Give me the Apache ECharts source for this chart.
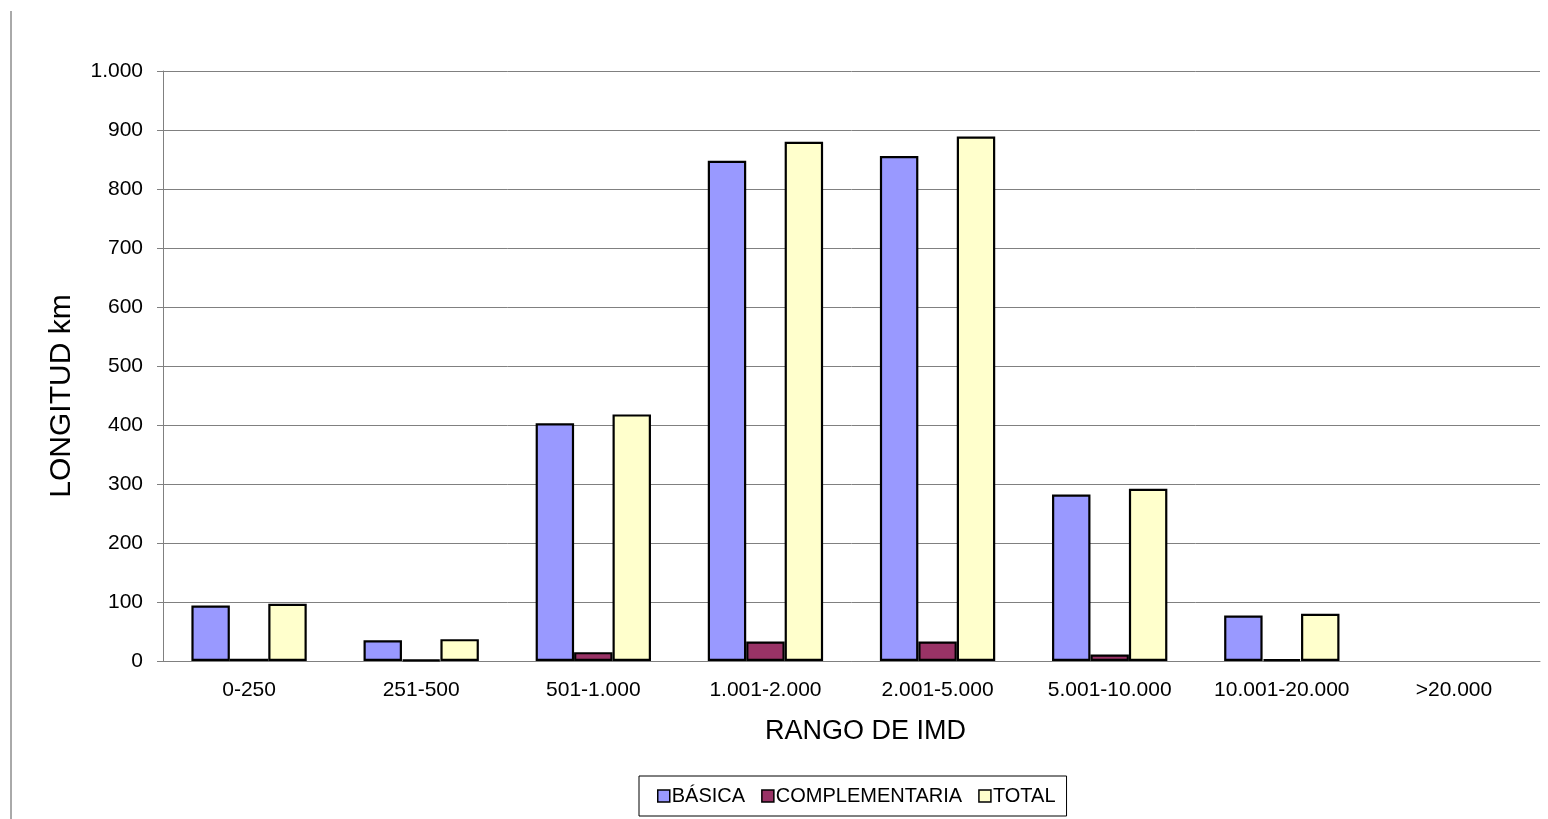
<!DOCTYPE html>
<html>
<head>
<meta charset="utf-8">
<title>Longitud por rango de IMD</title>
<script src="https://cdn.jsdelivr.net/npm/echarts@6/dist/echarts.min.js"></script>
<style>
  html, body { margin: 0; padding: 0; background: #fff; }
  #chart { width: 1548px; height: 819px; }
</style>
</head>
<body>
<div id="chart"></div>
<script>
const categories = ['0-250', '251-500', '501-1.000', '1.001-2.000', '2.001-5.000', '5.001-10.000', '10.001-20.000', '>20.000']
// >20.000 sin datos
const basica = [94, 35, 403, 848, 856, 282, 77, null]
const complementaria = [4, 2, 15, 33, 33, 11, 3, null]
const total = [97, 37, 418, 880, 889, 292, 80, null]

const font = 'Liberation Sans, Arial, sans-serif'
const chart = echarts.init(document.getElementById('chart'))

// separador de miles con punto
const fmt = v => String(v).replace(/\B(?=(\d{3})+(?!\d))/g, '.')

const barStyle = color => ({ color: color, borderColor: '#000', borderWidth: 2.2 })

chart.setOption({
  animation: false,
  textStyle: { fontFamily: font },
  grid: { left: 163, right: 8, top: 71, bottom: 158 },
  legend: {
    bottom: 3,
    left: 639,
    padding: [10, 11, 10, 18],
    borderColor: '#000',
    borderWidth: 1,
    itemWidth: 12,
    itemHeight: 12,
    itemGap: 16,
    icon: 'rect',
    itemStyle: { borderColor: '#000', borderWidth: 1.5 },
    textStyle: { fontFamily: font, fontSize: 20, color: '#000', padding: [0, 0, 0, -3] },
    data: ['BÁSICA', 'COMPLEMENTARIA', 'TOTAL']
  },
  xAxis: {
    type: 'category',
    data: categories,
    name: 'RANGO DE IMD',
    nameLocation: 'middle',
    nameGap: 57,
    nameTextStyle: { fontFamily: font, fontSize: 27, color: '#000', padding: [0, 0, 0, 28] },
    axisLine: { lineStyle: { color: '#808080', width: 1 } },
    axisTick: { length: 6, interval: 0, lineStyle: { color: '#808080' } },
    axisLabel: { fontFamily: font, fontSize: 21, color: '#000', margin: 19, interval: 0 }
  },
  yAxis: {
    type: 'value',
    min: 0,
    max: 1000,
    interval: 100,
    name: 'LONGITUD km',
    nameLocation: 'middle',
    nameGap: 86,
    nameRotate: 90,
    nameTextStyle: { fontFamily: font, fontSize: 30, color: '#000', padding: [0, 60, 0, 0] },
    axisLine: { show: true, lineStyle: { color: '#808080', width: 1 } },
    axisTick: { show: true, length: 6, lineStyle: { color: '#808080' } },
    axisLabel: { fontFamily: font, fontSize: 21, color: '#000', margin: 20, formatter: fmt },
    splitLine: { lineStyle: { color: '#808080', width: 1 } }
  },
  graphic: [{
    type: 'line',
    shape: { x1: 11, y1: 11, x2: 11, y2: 819 },
    style: { stroke: '#555', lineWidth: 1 }
  }],
  series: [
    { name: 'BÁSICA', type: 'bar', data: basica, barGap: '0%', barCategoryGap: '33%', itemStyle: barStyle('#9999ff') },
    { name: 'COMPLEMENTARIA', type: 'bar', data: complementaria, itemStyle: barStyle('#993366') },
    { name: 'TOTAL', type: 'bar', data: total, itemStyle: barStyle('#ffffcc') }
  ]
})
</script>
</body>
</html>
